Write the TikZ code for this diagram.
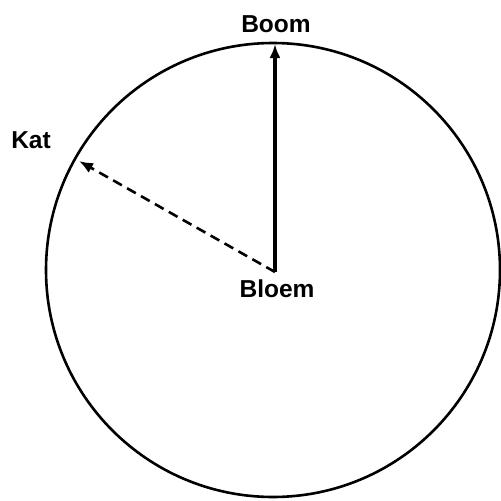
\documentclass[tikz,border=0pt]{standalone}
\usepackage{fontspec}
\setmainfont{Liberation Sans}
\usetikzlibrary{arrows.meta}
\begin{document}
\begin{tikzpicture}[x=1pt,y=-1pt,
  lbl/.style={font=\bfseries\fontsize{24.5}{28}\selectfont, inner sep=0pt},
  vec/.style={line width=3.2pt, -{Latex[length=14pt,width=11pt]}},
  ring/.style={line width=2.6pt}]
\useasboundingbox (0,0) rectangle (501,501);
\node[ring, draw, circle, minimum size=454pt, inner sep=0pt] (c) at (273,270) {};
\coordinate (o) at (275,272);
\coordinate (top) at (275,44);
\coordinate (kat) at (79,161);
\draw[vec] (o) -- (top);
\draw[vec, line width=2.6pt, dash pattern=on 10pt off 6pt] (o) -- (kat);
\node[lbl] (boom) at (276,24) {Boom};
\node[lbl] (katl) at (31,140) {Kat};
\node[lbl] (bloem) at (277,289) {Bloem};
\end{tikzpicture}
\end{document}
